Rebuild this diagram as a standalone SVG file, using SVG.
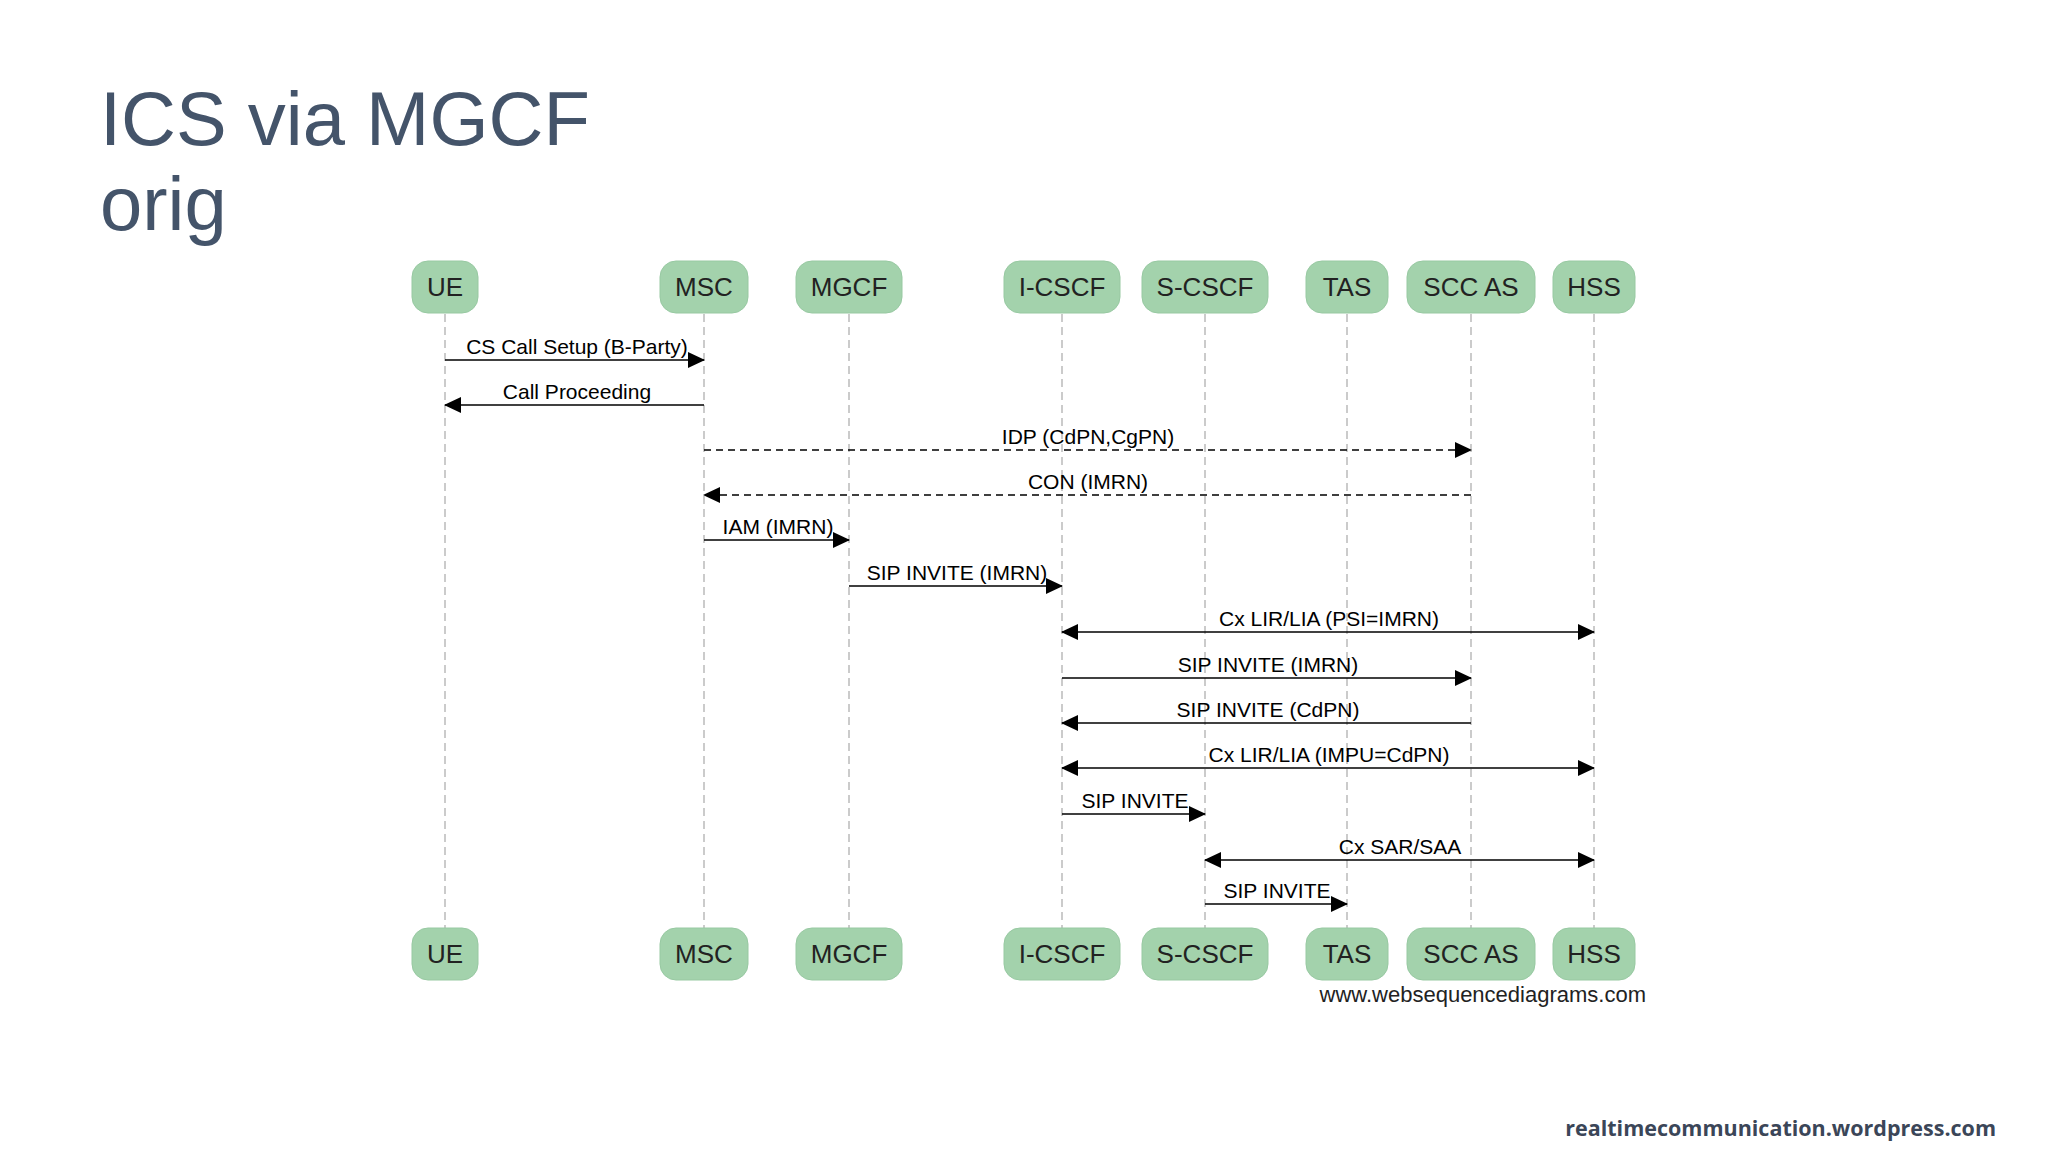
<svg xmlns="http://www.w3.org/2000/svg" width="2048" height="1152" viewBox="0 0 2048 1152">
<style>
.box{fill:#a3d2ac;stroke:#98c9a2;stroke-width:1}
.bt{font-family:"Liberation Sans",Arial,sans-serif;font-size:26px;fill:#222;text-anchor:middle}
.life{stroke:#bbb;stroke-width:1.5;stroke-dasharray:8,5}
.m{stroke:#000;stroke-width:1.6;fill:none}
.d{stroke-dasharray:7,5}
.l{font-family:"Liberation Sans",Arial,sans-serif;font-size:21px;fill:#000;text-anchor:middle}
</style>
<defs>
<marker id="a" markerWidth="17" markerHeight="16" refX="16" refY="8" orient="auto-start-reverse" markerUnits="userSpaceOnUse"><path d="M0,0 L17,8 L0,16 Z" fill="#000"/></marker>
</defs>
<rect width="2048" height="1152" fill="#fff"/>
<text x="100" y="145" font-family="Liberation Sans,Arial,sans-serif" font-size="76" fill="#44546a">ICS via MGCF</text>
<text x="100" y="230" font-family="Liberation Sans,Arial,sans-serif" font-size="76" fill="#44546a">orig</text>
<g id="lifelines">
<line class="life" x1="445" y1="314" x2="445" y2="928"/>
<line class="life" x1="704" y1="314" x2="704" y2="928"/>
<line class="life" x1="849" y1="314" x2="849" y2="928"/>
<line class="life" x1="1062" y1="314" x2="1062" y2="928"/>
<line class="life" x1="1205" y1="314" x2="1205" y2="928"/>
<line class="life" x1="1347" y1="314" x2="1347" y2="928"/>
<line class="life" x1="1471" y1="314" x2="1471" y2="928"/>
<line class="life" x1="1594" y1="314" x2="1594" y2="928"/>
</g>
<g id="UE"><rect class="box" x="412" y="261" width="66" height="52" rx="16"/><text class="bt" x="445" y="296">UE</text><rect class="box" x="412" y="928" width="66" height="52" rx="16"/><text class="bt" x="445" y="963">UE</text></g>
<g id="MSC"><rect class="box" x="660" y="261" width="88" height="52" rx="16"/><text class="bt" x="704" y="296">MSC</text><rect class="box" x="660" y="928" width="88" height="52" rx="16"/><text class="bt" x="704" y="963">MSC</text></g>
<g id="MGCF"><rect class="box" x="796" y="261" width="106" height="52" rx="16"/><text class="bt" x="849" y="296">MGCF</text><rect class="box" x="796" y="928" width="106" height="52" rx="16"/><text class="bt" x="849" y="963">MGCF</text></g>
<g id="ICSCF"><rect class="box" x="1004" y="261" width="116" height="52" rx="16"/><text class="bt" x="1062" y="296">I-CSCF</text><rect class="box" x="1004" y="928" width="116" height="52" rx="16"/><text class="bt" x="1062" y="963">I-CSCF</text></g>
<g id="SCSCF"><rect class="box" x="1142" y="261" width="126" height="52" rx="16"/><text class="bt" x="1205" y="296">S-CSCF</text><rect class="box" x="1142" y="928" width="126" height="52" rx="16"/><text class="bt" x="1205" y="963">S-CSCF</text></g>
<g id="TAS"><rect class="box" x="1306" y="261" width="82" height="52" rx="16"/><text class="bt" x="1347" y="296">TAS</text><rect class="box" x="1306" y="928" width="82" height="52" rx="16"/><text class="bt" x="1347" y="963">TAS</text></g>
<g id="SCCAS"><rect class="box" x="1407" y="261" width="128" height="52" rx="16"/><text class="bt" x="1471" y="296">SCC AS</text><rect class="box" x="1407" y="928" width="128" height="52" rx="16"/><text class="bt" x="1471" y="963">SCC AS</text></g>
<g id="HSS"><rect class="box" x="1553" y="261" width="82" height="52" rx="16"/><text class="bt" x="1594" y="296">HSS</text><rect class="box" x="1553" y="928" width="82" height="52" rx="16"/><text class="bt" x="1594" y="963">HSS</text></g>
<g id="connectors">
<line class="m" x1="445" y1="360" x2="704" y2="360" marker-end="url(#a)"/>
<text class="l" x="577" y="354">CS Call Setup (B-Party)</text>
<line class="m" x1="704" y1="405" x2="445" y2="405" marker-end="url(#a)"/>
<text class="l" x="577" y="399">Call Proceeding</text>
<line class="m d" x1="704" y1="450" x2="1471" y2="450" marker-end="url(#a)"/>
<text class="l" x="1088" y="444">IDP (CdPN,CgPN)</text>
<line class="m d" x1="1471" y1="495" x2="704" y2="495" marker-end="url(#a)"/>
<text class="l" x="1088" y="489">CON (IMRN)</text>
<line class="m" x1="704" y1="540" x2="849" y2="540" marker-end="url(#a)"/>
<text class="l" x="778" y="534">IAM (IMRN)</text>
<line class="m" x1="849" y1="586" x2="1062" y2="586" marker-end="url(#a)"/>
<text class="l" x="957" y="580">SIP INVITE (IMRN)</text>
<line class="m" x1="1062" y1="632" x2="1594" y2="632" marker-start="url(#a)" marker-end="url(#a)"/>
<text class="l" x="1329" y="626">Cx LIR/LIA (PSI=IMRN)</text>
<line class="m" x1="1062" y1="678" x2="1471" y2="678" marker-end="url(#a)"/>
<text class="l" x="1268" y="672">SIP INVITE (IMRN)</text>
<line class="m" x1="1471" y1="723" x2="1062" y2="723" marker-end="url(#a)"/>
<text class="l" x="1268" y="717">SIP INVITE (CdPN)</text>
<line class="m" x1="1062" y1="768" x2="1594" y2="768" marker-start="url(#a)" marker-end="url(#a)"/>
<text class="l" x="1329" y="762">Cx LIR/LIA (IMPU=CdPN)</text>
<line class="m" x1="1062" y1="814" x2="1205" y2="814" marker-end="url(#a)"/>
<text class="l" x="1135" y="808">SIP INVITE</text>
<line class="m" x1="1205" y1="860" x2="1594" y2="860" marker-start="url(#a)" marker-end="url(#a)"/>
<text class="l" x="1400" y="854">Cx SAR/SAA</text>
<line class="m" x1="1205" y1="904" x2="1347" y2="904" marker-end="url(#a)"/>
<text class="l" x="1277" y="898">SIP INVITE</text>
</g>
<text x="1646" y="1002" font-family="Liberation Sans,Arial,sans-serif" font-size="22" fill="#222" text-anchor="end">www.websequencediagrams.com</text>
<text x="1996" y="1136" font-family="Open Sans,Liberation Sans,sans-serif" font-weight="bold" font-size="21.5" fill="#3b4658" text-anchor="end">realtimecommunication.wordpress.com</text>
</svg>
